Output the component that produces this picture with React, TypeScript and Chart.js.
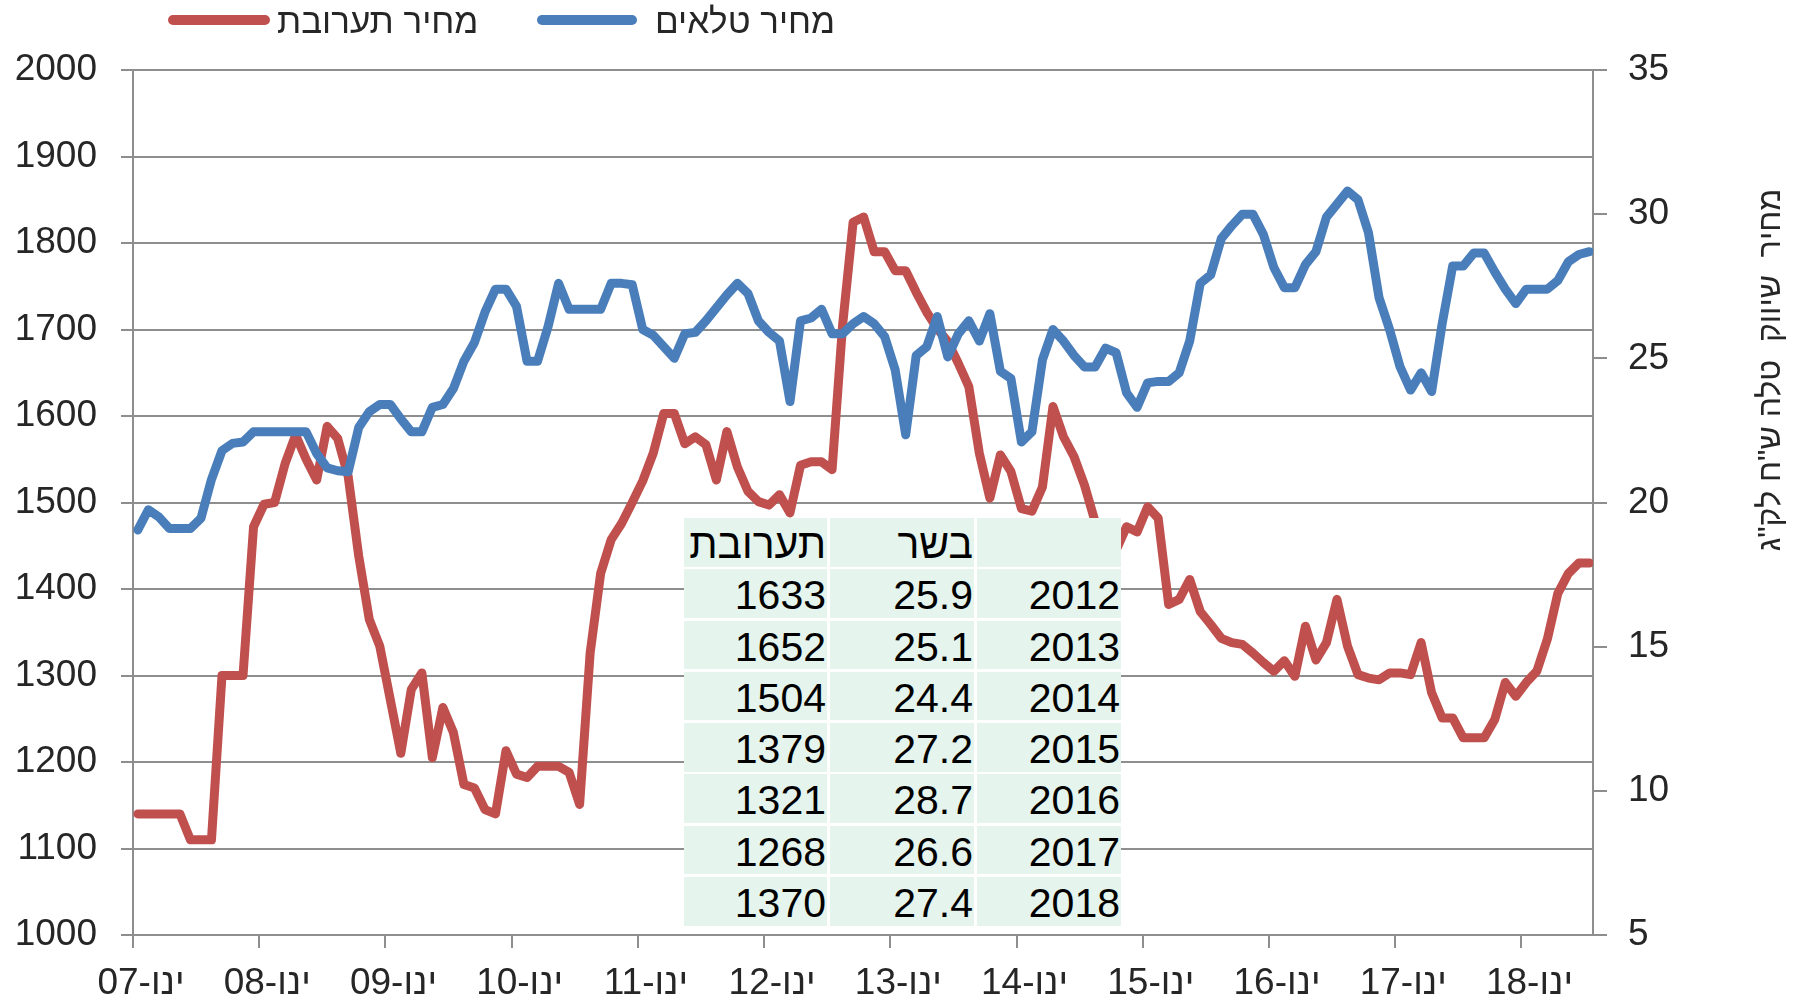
import React, { useEffect, useRef } from "react";
import { Chart, registerables } from "chart.js";

Chart.register(...registerables);

const W = 1797;
const H = 1002;
const FONT = "'Liberation Sans', Arial, 'DejaVu Sans', sans-serif";
const TEXT = "#262626";
const GRID = "#8E8E8E";
const RED = "#C0504D";
const BLUE = "#4A7EBB";

// monthly data, Jan-2007 .. Jul-2018 (points dated mid-month)
const xTickLabels = [
  "ינו-07", "ינו-08", "ינו-09", "ינו-10", "ינו-11", "ינו-12",
  "ינו-13", "ינו-14", "ינו-15", "ינו-16", "ינו-17", "ינו-18",
];

const feedPrice = [
  1140, 1140, 1140, 1140, 1140, 1110, 1110, 1110, 1300, 1300,
  1300, 1472, 1498, 1500, 1545, 1578, 1550, 1526, 1588, 1574,
  1530, 1438, 1365, 1334, 1272, 1210, 1284, 1303, 1205, 1263,
  1234, 1174, 1170, 1145, 1140, 1213, 1186, 1182, 1195, 1195,
  1195, 1188, 1151, 1326, 1418, 1457, 1476, 1500, 1525, 1557,
  1603, 1603, 1568, 1576, 1567, 1526, 1582, 1541, 1513, 1501,
  1497, 1509, 1488, 1543, 1547, 1547, 1538, 1705, 1824, 1830,
  1790, 1790, 1768, 1768, 1743, 1720, 1701, 1686, 1661, 1634,
  1557, 1505, 1555, 1536, 1493, 1490, 1518, 1611, 1576, 1553,
  1520, 1478, 1440, 1445, 1472, 1466, 1495, 1482, 1382, 1388,
  1411, 1374, 1359, 1343, 1338, 1336, 1326, 1315, 1305, 1317,
  1299, 1357, 1318, 1338, 1388, 1334, 1301, 1297, 1295, 1303,
  1303, 1301, 1338, 1280, 1251, 1251, 1228, 1228, 1228, 1249,
  1292, 1276, 1292, 1305, 1342, 1395, 1418, 1430, 1430,
];

const lambPrice = [
  19.05, 19.75, 19.5, 19.1, 19.1, 19.1, 19.45, 20.8, 21.8, 22.05,
  22.1, 22.45, 22.45, 22.45, 22.45, 22.45, 22.45, 21.7, 21.2, 21.1,
  21.07, 22.6, 23.15, 23.4, 23.4, 22.9, 22.45, 22.45, 23.3, 23.4,
  23.95, 24.9, 25.55, 26.6, 27.4, 27.4, 26.8, 24.9, 24.9, 26.1,
  27.6, 26.7, 26.7, 26.7, 26.7, 27.6, 27.6, 27.55, 26.0, 25.8,
  25.4, 25.0, 25.85, 25.9, 26.3, 26.75, 27.2, 27.6, 27.25, 26.3,
  25.9, 25.6, 23.5, 26.3, 26.4, 26.7, 25.85, 25.85, 26.2, 26.45,
  26.2, 25.75, 24.6, 22.35, 25.1, 25.4, 26.45, 25.05, 25.85, 26.3,
  25.6, 26.55, 24.55, 24.3, 22.1, 22.45, 24.95, 26.0, 25.6, 25.1,
  24.7, 24.7, 25.35, 25.2, 23.8, 23.3, 24.15, 24.2, 24.2, 24.5,
  25.6, 27.6, 27.9, 29.15, 29.6, 30.0, 30.0, 29.3, 28.15, 27.45,
  27.45, 28.25, 28.7, 29.9, 30.35, 30.8, 30.5, 29.35, 27.1, 26.0,
  24.7, 23.9, 24.5, 23.85, 26.2, 28.2, 28.2, 28.65, 28.65, 28.0,
  27.4, 26.9, 27.4, 27.4, 27.4, 27.7, 28.35, 28.6, 28.7,
];

const legendLabels = ["מחיר תערובת", "מחיר טלאים"];
const rightAxisTitle = 'מחיר  שיווק  טלה ש"ח לק"ג';

const tableHeader = ["", "בשר", "תערובת"];
const tableYears = ["2012", "2013", "2014", "2015", "2016", "2017", "2018"];
const tableMeat = ["25.9", "25.1", "24.4", "27.2", "28.7", "26.6", "27.4"];
const tableFeed = ["1633", "1652", "1504", "1379", "1321", "1268", "1370"];

const MID_MONTH = 0.46;
const MONTHS_PER_YEAR = 12;

const legendPlugin = {
  id: "customLegend",
  afterDraw(chart: any) {
    const ctx = chart.ctx;
    const items = [
      { color: RED, x0: 173, x1: 265, tx: 277, label: legendLabels[0] },
      { color: BLUE, x0: 542, x1: 632, tx: 655, label: legendLabels[1] },
    ];
    ctx.save();
    for (const it of items) {
      ctx.strokeStyle = it.color;
      ctx.lineWidth = 10;
      ctx.lineCap = "round";
      ctx.beginPath();
      ctx.moveTo(it.x0, 20);
      ctx.lineTo(it.x1, 20);
      ctx.stroke();
      ctx.fillStyle = TEXT;
      ctx.font = `35px ${FONT}`;
      ctx.textAlign = "left";
      ctx.textBaseline = "alphabetic";
      ctx.fillText(it.label, it.tx, 33);
    }
    ctx.restore();
  },
};

const rightTitlePlugin = {
  id: "rightTitle",
  afterDraw(chart: any) {
    const ctx = chart.ctx;
    ctx.save();
    ctx.translate(1780, 370);
    ctx.rotate(-Math.PI / 2);
    ctx.fillStyle = TEXT;
    ctx.font = `32px ${FONT}`;
    ctx.textAlign = "center";
    ctx.textBaseline = "alphabetic";
    ctx.fillText(rightAxisTitle, 0, 0);
    ctx.restore();
  },
};

export default function App() {
  const ref = useRef<HTMLCanvasElement>(null);

  useEffect(() => {
    const canvas = ref.current;
    if (!canvas) return;
    const tickFont = { family: FONT, size: 37 };
    const chart = new Chart(canvas, {
      type: "line",
      data: {
        datasets: [
          {
            label: legendLabels[0],
            data: feedPrice.map((v, i) => ({ x: i + MID_MONTH, y: v })),
            borderColor: RED,
            backgroundColor: RED,
            borderWidth: 9,
            pointRadius: 0,
            tension: 0,
            borderJoinStyle: "round",
            borderCapStyle: "round",
            yAxisID: "y",
            order: 1,
          },
          {
            label: legendLabels[1],
            data: lambPrice.map((v, i) => ({ x: i + MID_MONTH, y: v })),
            borderColor: BLUE,
            backgroundColor: BLUE,
            borderWidth: 9,
            pointRadius: 0,
            tension: 0,
            borderJoinStyle: "round",
            borderCapStyle: "round",
            yAxisID: "y1",
            order: 0,
          },
        ],
      },
      options: {
        responsive: false,
        animation: false,
        devicePixelRatio: 1,
        layout: { padding: { top: 70, left: 0, right: 0, bottom: 0 } },
        plugins: {
          legend: { display: false },
          tooltip: { enabled: false },
        },
        scales: {
          x: {
            type: "linear",
            min: 0,
            max: 138.8,
            afterBuildTicks: (scale: any) => {
              scale.ticks = xTickLabels.map((_, k) => ({ value: k * MONTHS_PER_YEAR }));
            },
            afterFit: (scale: any) => {
              scale.height = 67;
            },
            ticks: {
              autoSkip: false,
              maxRotation: 0,
              minRotation: 0,
              padding: 14,
              labelOffset: 8,
              color: TEXT,
              font: tickFont,
              callback: (v: any) => xTickLabels[Math.round(Number(v) / MONTHS_PER_YEAR)],
            },
            grid: { drawOnChartArea: false, drawTicks: true, tickLength: 13, color: GRID, lineWidth: 2 },
            border: { display: true, color: GRID, width: 2 },
          },
          y: {
            position: "left",
            min: 1000,
            max: 2000,
            afterFit: (scale: any) => {
              scale.width = 133;
            },
            ticks: {
              stepSize: 100,
              padding: 24,
              color: TEXT,
              font: tickFont,
              callback: (v: any) => String(v),
            },
            grid: { color: GRID, lineWidth: 2, tickLength: 12 },
            border: { display: true, color: GRID, width: 2 },
          },
          y1: {
            position: "right",
            min: 5,
            max: 35,
            afterFit: (scale: any) => {
              scale.width = W - 1593;
            },
            ticks: {
              stepSize: 5,
              padding: 21,
              color: TEXT,
              font: tickFont,
              callback: (v: any) => String(v),
            },
            grid: { drawOnChartArea: false, color: GRID, lineWidth: 2, tickLength: 14 },
            border: { display: true, color: GRID, width: 2 },
          },
        },
      },
      plugins: [legendPlugin, rightTitlePlugin],
    } as any);
    return () => chart.destroy();
  }, []);

  const cellBase: React.CSSProperties = {
    background: "#E5F4EC",
    textAlign: "right",
    paddingRight: 1,
    height: 48.5,
    lineHeight: "52px",
    whiteSpace: "nowrap",
    overflow: "visible",
    boxSizing: "border-box",
  };

  const rows: string[][] = [tableHeader];
  tableYears.forEach((y, i) => rows.push([y, tableMeat[i], tableFeed[i]]));

  return (
    <div
      style={{
        position: "absolute",
        left: 0,
        top: 0,
        width: W,
        height: H,
        background: "#ffffff",
        overflow: "hidden",
      }}
    >
      <canvas
        ref={ref}
        width={W}
        height={H}
        style={{ display: "block", position: "absolute", left: 0, top: 0, width: W, height: H }}
      />
      <div
        style={{
          position: "absolute",
          left: 684,
          top: 518,
          display: "grid",
          direction: "rtl",
          gridTemplateColumns: "144px 144px 143px",
          gridAutoRows: "48.5px",
          columnGap: 3,
          rowGap: 2.8,
          background: "#ffffff",
          fontFamily: FONT,
          fontSize: 41,
          color: "#000",
        }}
      >
        {rows.map((r, ri) =>
          r.map((c, ci) => (
            <div key={`${ri}-${ci}`} style={cellBase}>
              {c}
            </div>
          ))
        )}
      </div>
    </div>
  );
}
